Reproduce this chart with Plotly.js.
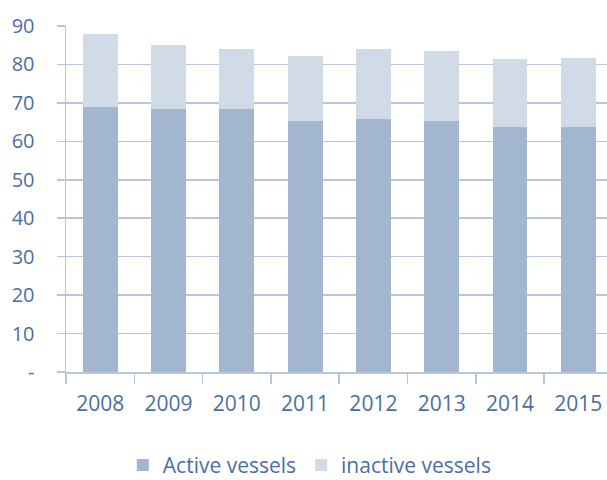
<!DOCTYPE html>
<html>
<head>
<meta charset="utf-8">
<script src="https://cdn.plot.ly/plotly-3.0.1.min.js"></script>
<style>html,body{margin:0;padding:0;background:#fff;}#chart{width:607px;height:480px;}</style>
</head>
<body>
<div id="chart"></div>
<script>
const years = ['2008','2009','2010','2011','2012','2013','2014','2015'];
const activeVessels = [68.9, 68.5, 68.5, 65.3, 65.7, 65.3, 63.7, 63.7];
const inactiveVessels = [18.9, 16.5, 15.6, 16.8, 18.4, 18.1, 17.7, 18.1];
const yTickVals = [0, 10, 20, 30, 40, 50, 60, 70, 80, 90];
const yTickText = ['-', '10', '20', '30', '40', '50', '60', '70', '80', '90'];

const textColor = '#4a6fa5';
const gridColor = '#b7c6dc';
const fontFamily = '"Open Sans", "Noto Sans", sans-serif';

const traces = [
  {type: 'bar', name: 'Active vessels', x: years, y: activeVessels,
   marker: {color: '#a3b6cf'}, hoverinfo: 'x+y'},
  {type: 'bar', name: 'inactive vessels', x: years, y: inactiveVessels,
   marker: {color: '#d0dbe7'}, hoverinfo: 'x+y'}
];

const layout = {
  width: 607, height: 480,
  margin: {l: 66, r: 0, t: 26, b: 108, autoexpand: false},
  paper_bgcolor: '#ffffff', plot_bgcolor: '#ffffff',
  barmode: 'stack', bargap: 0.49,
  font: {family: fontFamily, color: textColor, size: 20},
  showlegend: true,
  legend: {orientation: 'h', x: 0.105, xanchor: 'left', y: -0.27, yanchor: 'middle',
           font: {size: 21, color: textColor, family: fontFamily}, itemwidth: 30,
           tracegroupgap: 0, traceorder: 'normal'},
  xaxis: {
    type: 'category', range: [-0.5, 7.42], automargin: false,
    showgrid: false, zeroline: false,
    showline: true, linecolor: gridColor, linewidth: 1.5,
    ticks: 'outside', tickson: 'boundaries', ticklen: 10, tickcolor: gridColor, tickwidth: 1.5,
    tickfont: {size: 21, color: textColor}, ticklabelstandoff: 12
  },
  yaxis: {
    range: [0, 90], tickvals: yTickVals, ticktext: yTickText, automargin: false,
    showgrid: true, gridcolor: gridColor, gridwidth: 1.5,
    zeroline: false,
    showline: true, linecolor: gridColor, linewidth: 1.5,
    ticks: 'outside', ticklen: 8, tickcolor: gridColor, tickwidth: 1.5,
    tickfont: {size: 20, color: textColor}, ticklabelstandoff: 18
  }
};

Plotly.newPlot('chart', traces, layout, {displayModeBar: false, staticPlot: true});
</script>
</body>
</html>
